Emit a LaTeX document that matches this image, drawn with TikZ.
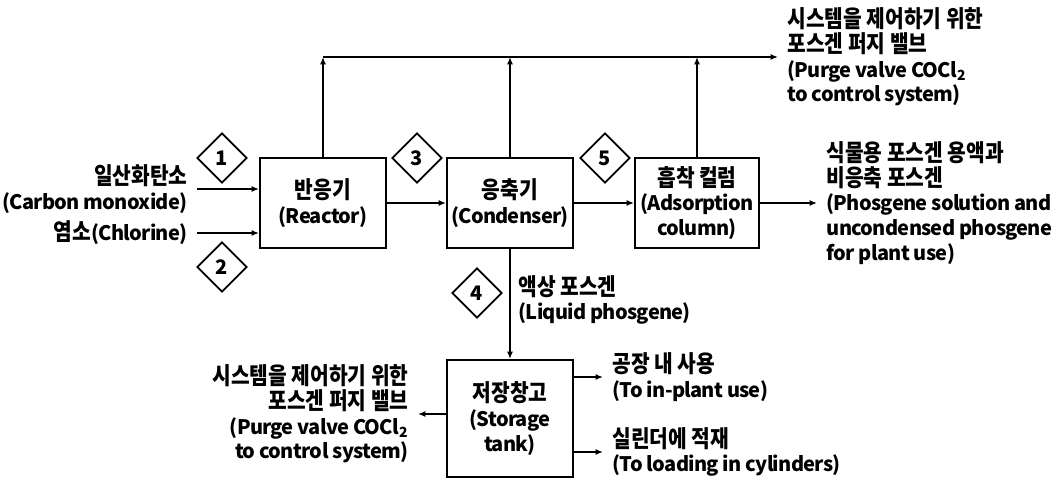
\documentclass[tikz,border=0pt]{standalone}
\usepackage{fontspec}
\setmainfont{Noto Sans CJK KR}[LetterSpace=-3.5]
\newfontfamily\kofont{Noto Sans CJK KR}[Scale=1.18, FakeStretch=0.86]
\newcommand\ko[1]{{\kofont #1}}
\usetikzlibrary{arrows.meta,shapes.geometric}

\begin{document}
\begin{tikzpicture}[x=0.75pt,y=-0.75pt,
  font=\bfseries\fontsize{15}{18.5}\selectfont,
  unit/.style={draw, line width=1.5pt, minimum width=94.5pt, minimum height=67.5pt,
               align=center, inner sep=0pt},
  tag/.style={draw, diamond, line width=1.3pt, minimum width=37.5pt,
              minimum height=37.5pt, inner sep=0pt},
  lbl/.style={inner xsep=7pt, inner ysep=0pt},
  flow/.style={line width=1.5pt, -{Latex[length=5.5pt,width=4.5pt]}},
]
\useasboundingbox (0,0) rectangle (1059,479);

% process units
\node[unit] (reactor) at (323,203) {\ko{반응기}\\(Reactor)};
\node[unit] (cond) at (510,203) {\ko{응축기}\\(Condenser)};
\node[unit, minimum width=93pt] (ads) at (697,203) {\ko{흡착 컬럼}\\(Adsorption\\column)};
\node[unit, minimum height=87.75pt] (tank) at (510,418.5) {\ko{저장창고}\\(Storage\\tank)};

% numbered stream markers
\node[tag] (d1) at (222,158) {1};
\node[tag] (d2) at (222,267) {2};
\node[tag] (d3) at (417,158) {3};
\node[tag] (d4) at (477,293) {4};
\node[tag] (d5) at (605,158) {5};

% stream labels
\node[lbl, anchor=east, align=right] (co) at (197,189) {\ko{일산화탄소}\\(Carbon monoxide)};
\node[lbl, anchor=east] (cl) at (197,233) {\ko{염소}(Chlorine)};
\node[lbl, anchor=west, align=left] (purgetop) at (778,57)
  {\ko{시스템을 제어하기 위한}\\\ko{포스겐 퍼지 밸브}\\(Purge valve COCl\textsubscript{2}\\to control system)};
\node[lbl, anchor=west, align=left] (plant) at (817,203)
  {\ko{식물용 포스겐 용액과}\\\ko{비응축 포스겐}\\(Phosgene solution and\\uncondensed phosgene\\for plant use)};
\node[lbl, anchor=west, align=left] (liq) at (509,300) {\ko{액상 포스겐}\\(Liquid phosgene)};
\node[lbl, anchor=east, align=right] (purgebot) at (418,414)
  {\ko{시스템을 제어하기 위한}\\\ko{포스겐 퍼지 밸브}\\(Purge valve COCl\textsubscript{2}\\to control system)};
\node[lbl, anchor=west, align=left] (inplant) at (603,377) {\ko{공장 내 사용}\\(To in-plant use)};
\node[lbl, anchor=west, align=left] (cyl) at (603,452) {\ko{실린더에 적재}\\(To loading in cylinders)};

% purge header
\coordinate (bus) at (0,57);
\draw[flow] (reactor.north) -- (reactor.north |- bus);
\draw[flow] (cond.north) -- (cond.north |- bus);
\draw[flow] (ads.north) -- (ads.north |- bus);
\draw[flow] (reactor.north |- bus) -- (purgetop.west);

% main flow
\draw[flow] (co.east) -- (co.east -| reactor.west);
\draw[flow] (cl.east) -- (cl.east -| reactor.west);
\draw[flow] (reactor.east) -- (cond.west);
\draw[flow] (cond.east) -- (ads.west);
\draw[flow] (ads.east) -- (plant.west);
\draw[flow] (cond.south) -- (tank.north);

% storage outlets
\draw[flow] (tank.west |- purgebot.east) -- (purgebot.east);
\draw[flow] (tank.east |- inplant.west) -- (inplant.west);
\draw[flow] (tank.east |- cyl.west) -- (cyl.west);
\end{tikzpicture}
\end{document}
